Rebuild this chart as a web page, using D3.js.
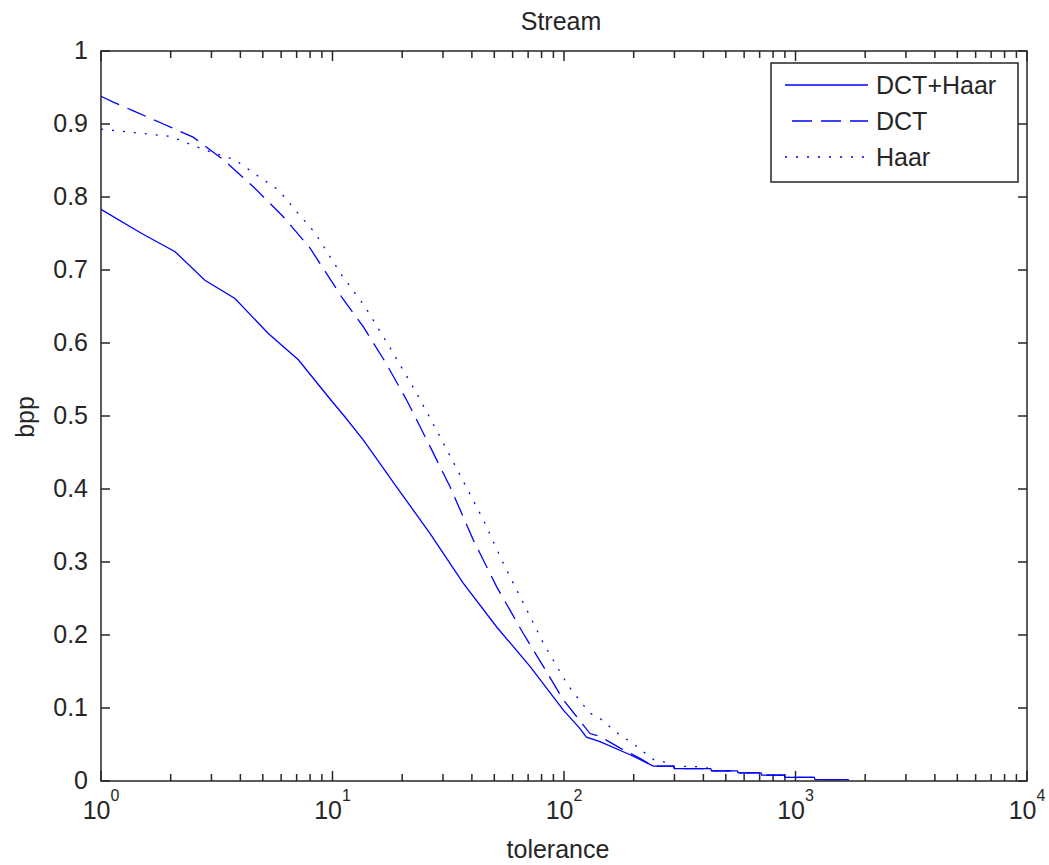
<!DOCTYPE html>
<html>
<head>
<meta charset="utf-8">
<script src="https://cdn.jsdelivr.net/npm/d3@7"></script>
<style>
  body { margin: 0; background: #fff; }
  text { font-family: "Liberation Sans", Arial, sans-serif; fill: #262626; }
</style>
</head>
<body>
<div id="chart"></div>
<script>
// values: [tolerance, bpp]
var dctHaar = [
  [1, 0.783], [1.5, 0.750], [2.09, 0.725], [2.81, 0.686], [3.79, 0.661],
  [5.28, 0.613], [7.12, 0.577], [9.6, 0.526], [11.3, 0.499], [13.6, 0.467],
  [18.9, 0.403], [26.4, 0.339], [36.7, 0.271], [51.2, 0.211], [71.3, 0.157],
  [99.4, 0.097], [117, 0.072], [125, 0.060], [143, 0.054], [193, 0.036],
  [243, 0.0205], [297, 0.0205], [300, 0.017], [430, 0.017], [434, 0.014],
  [560, 0.014], [566, 0.011], [710, 0.011], [715, 0.008], [895, 0.008],
  [901, 0.005], [1205, 0.005], [1214, 0.002], [1700, 0.002]
];
var dct = [
  [1, 0.938], [1.13, 0.930], [1.38, 0.918], [1.86, 0.900], [2.5, 0.882],
  [3.38, 0.851], [4.55, 0.814], [6.13, 0.773], [8.0, 0.730], [10.96, 0.663],
  [13.6, 0.622], [16.9, 0.574], [20.9, 0.522], [26.4, 0.458], [32.2, 0.403],
  [40.6, 0.330], [51.2, 0.266], [66.7, 0.202], [81.4, 0.157], [99.4, 0.111],
  [113.5, 0.088], [129.5, 0.065], [143, 0.061], [175, 0.045], [213, 0.031],
  [243, 0.0205], [297, 0.0205], [300, 0.017], [430, 0.017], [434, 0.014],
  [560, 0.014], [566, 0.011], [710, 0.011], [715, 0.008], [895, 0.008],
  [901, 0.005], [1205, 0.005], [1214, 0.002], [1700, 0.002]
];
var haar = [
  [1, 0.893], [1.31, 0.889], [1.63, 0.886], [2.0, 0.883], [2.23, 0.877],
  [2.77, 0.865], [3.79, 0.851], [4.7, 0.830], [5.83, 0.810], [7.0, 0.780],
  [8.4, 0.751], [10.96, 0.693], [13.8, 0.650], [18.0, 0.590], [23.1, 0.531],
  [29.1, 0.472], [36.1, 0.415], [44.8, 0.358], [54.7, 0.298], [67.9, 0.239],
  [81.4, 0.189], [102.7, 0.134], [110, 0.121], [119, 0.107], [129.5, 0.093],
  [144, 0.085], [161, 0.072], [178, 0.061], [198, 0.052], [220, 0.040],
  [245, 0.029], [273, 0.026], [297, 0.0205], [374, 0.0196], [430, 0.017],
  [434, 0.014], [560, 0.014], [566, 0.011], [710, 0.011], [715, 0.008],
  [895, 0.008], [901, 0.005], [1205, 0.005], [1214, 0.002], [1700, 0.002]
];
var seriesNames = ['DCT+Haar', 'DCT', 'Haar'];
var yTicks = [0, 0.1, 0.2, 0.3, 0.4, 0.5, 0.6, 0.7, 0.8, 0.9, 1];
var xDecades = [0, 1, 2, 3, 4];

var svgWidth = 1049, svgHeight = 865;
var margin = {top: 51, right: 22, bottom: 84, left: 101};
var width = svgWidth - margin.left - margin.right;
var height = svgHeight - margin.top - margin.bottom;
var ink = '#262626', blue = '#0000ff';

var svg = d3.select('#chart').append('svg')
  .attr('width', svgWidth)
  .attr('height', svgHeight);
var g = svg.append('g')
  .attr('transform', 'translate(' + margin.left + ',' + margin.top + ')');

var x = d3.scaleLog().domain([1, 10000]).range([0, width]);
var y = d3.scaleLinear().domain([0, 1]).range([height, 0]);

// minor ticks of a log axis
var minorTicks = [];
xDecades.slice(0, -1).forEach(function(e) {
  for (var k = 2; k <= 9; k++) minorTicks.push(k * Math.pow(10, e));
});
var majorTicks = xDecades.map(function(e) { return Math.pow(10, e); });

// ticks, pointing inward, on all four sides
function tickLines(vals, len, horizontal) {
  vals.forEach(function(v) {
    if (horizontal) {
      g.append('line').attr('x1', x(v)).attr('x2', x(v))
        .attr('y1', height).attr('y2', height - len);
      g.append('line').attr('x1', x(v)).attr('x2', x(v))
        .attr('y1', 0).attr('y2', len);
    } else {
      g.append('line').attr('x1', 0).attr('x2', len)
        .attr('y1', y(v)).attr('y2', y(v));
      g.append('line').attr('x1', width).attr('x2', width - len)
        .attr('y1', y(v)).attr('y2', y(v));
    }
  });
}
var tickG = g.append('g').attr('stroke', ink).attr('stroke-width', 1.5);
var gSave = g; g = tickG;
tickLines(minorTicks, 7, true);
tickLines(majorTicks, 10, true);
tickLines(yTicks, 9, false);
g = gSave;

// y tick labels
g.append('g').selectAll('text').data(yTicks).enter().append('text')
  .attr('x', -13)
  .attr('y', function(d) { return y(d) + 8; })
  .attr('text-anchor', 'end')
  .attr('font-size', 25)
  .text(function(d) { return d3.format('~g')(d); });

// x tick labels 10^n
var xl = g.append('g').selectAll('text').data(xDecades).enter().append('text')
  .attr('x', function(d) { return x(Math.pow(10, d)); })
  .attr('y', height + 38)
  .attr('text-anchor', 'middle')
  .attr('font-size', 25);
xl.append('tspan').text('10');
xl.append('tspan').attr('font-size', 16).attr('dy', -18)
  .text(function(d) { return d; });

// curves
var line = d3.line()
  .x(function(d) { return x(d[0]); })
  .y(function(d) { return y(d[1]); });
var dashes = [null, '20,9', '2,9'];
[dctHaar, dct, haar].forEach(function(s, i) {
  g.append('path')
    .datum(s)
    .attr('fill', 'none')
    .attr('stroke', blue)
    .attr('stroke-width', 1.3)
    .attr('stroke-dasharray', dashes[i])
    .attr('d', line);
});

// plot box
g.append('rect')
  .attr('width', width).attr('height', height)
  .attr('fill', 'none').attr('stroke', ink).attr('stroke-width', 1.5);

// legend
var lg = g.append('g').attr('transform', 'translate(' + (771 - margin.left) + ',' + (63 - margin.top) + ')');
lg.append('rect').attr('width', 247).attr('height', 119)
  .attr('fill', '#fff').attr('stroke', ink).attr('stroke-width', 1.5);
seriesNames.forEach(function(name, i) {
  var cy = 22 + i * 36;
  lg.append('line')
    .attr('x1', i === 1 ? 21 : 14).attr('x2', 97)
    .attr('y1', cy).attr('y2', cy)
    .attr('stroke', blue).attr('stroke-width', 1.3)
    .attr('stroke-dasharray', dashes[i]);
  lg.append('text').attr('x', 105).attr('y', cy + 9)
    .attr('font-size', 25).text(name);
});

// titles
svg.append('text').attr('x', 561).attr('y', 30)
  .attr('text-anchor', 'middle').attr('font-size', 25).text('Stream');
svg.append('text').attr('x', 558).attr('y', 858)
  .attr('text-anchor', 'middle').attr('font-size', 25).text('tolerance');
svg.append('text')
  .attr('transform', 'translate(34,417) rotate(-90)')
  .attr('text-anchor', 'middle').attr('font-size', 25).text('bpp');
</script>
</body>
</html>
